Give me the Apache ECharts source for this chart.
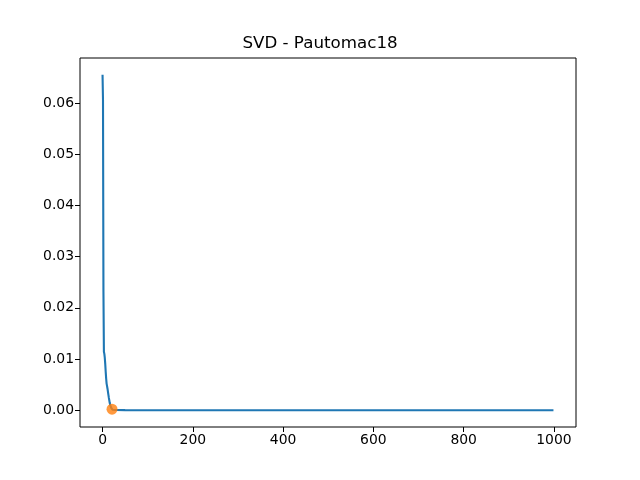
<!DOCTYPE html>
<html>
<head>
<meta charset="utf-8">
<script src="https://cdn.jsdelivr.net/npm/echarts@6/dist/echarts.min.js"></script>
<style>html,body{margin:0;padding:0;background:#fff}#c{width:640px;height:480px}</style>
</head>
<body>
<div id="c"></div>
<script>
// Singular values (index, value)
var xs = [0, 1, 2, 3, 4, 5, 6, 7, 8, 9, 10, 11, 12, 13, 14, 15, 16, 17, 18, 19, 20, 21, 22, 30, 50, 100, 200, 400, 600, 800, 999];
var ys = [0.0655, 0.0606, 0.0232, 0.0114, 0.0110, 0.0102, 0.0090, 0.0075, 0.0062, 0.0052, 0.0047, 0.0042, 0.0036, 0.0030, 0.0024, 0.0019, 0.0014, 0.0010, 0.0007, 0.0005, 0.0003, 0.0002, 0.0001, 0.00005, 0.00002, 0, 0, 0, 0, 0, 0];
var markX = [21];
var markY = [0.0002];
var xTicks = [0, 200, 400, 600, 800, 1000];
var yTicks = [0, 0.01, 0.02, 0.03, 0.04, 0.05, 0.06];

var lineData = xs.map(function (x, i) { return [x, ys[i]]; });
var markData = markX.map(function (x, i) { return [x, markY[i]]; });

var font = 'DejaVu Sans';
var chart = echarts.init(document.getElementById('c'));
chart.setOption({
  animation: false,
  backgroundColor: '#fff',
  title: {
    text: 'SVD - Pautomac18',
    left: 'center',
    top: 30,
    textStyle: { fontFamily: font, fontSize: 16.7, fontWeight: 'normal', color: '#000' }
  },
  grid: {
    left: 80, right: 64, top: 58, bottom: 53,
    show: true, borderColor: '#000', borderWidth: 1, backgroundColor: 'transparent'
  },
  xAxis: {
    type: 'value',
    min: -49.95, max: 1048.95,
    axisLine: { show: false, onZero: false },
    splitLine: { show: false },
    axisTick: { show: true, length: 5, inside: false, lineStyle: { color: '#000' }, customValues: xTicks },
    axisLabel: { show: true, margin: 6, color: '#000', fontFamily: font, fontSize: 13.9, customValues: xTicks, formatter: function (v) { return String(v); } }
  },
  yAxis: {
    type: 'value',
    min: -0.003275, max: 0.068775,
    axisLine: { show: false, onZero: false },
    splitLine: { show: false },
    axisTick: { show: true, length: 5, inside: false, lineStyle: { color: '#000' }, customValues: yTicks },
    axisLabel: { show: true, margin: 6, color: '#000', fontFamily: font, fontSize: 13.9, customValues: yTicks, formatter: function (v) { return v.toFixed(2); } }
  },
  series: [
    {
      type: 'line',
      data: lineData,
      showSymbol: false,
      symbol: 'none',
      lineStyle: { color: '#1f77b4', width: 2.1 },
      z: 2
    },
    {
      type: 'scatter',
      data: markData,
      symbol: 'circle',
      symbolSize: 11,
      itemStyle: { color: '#ff7f0e' },
      z: 3
    }
  ]
});
</script>
</body>
</html>
